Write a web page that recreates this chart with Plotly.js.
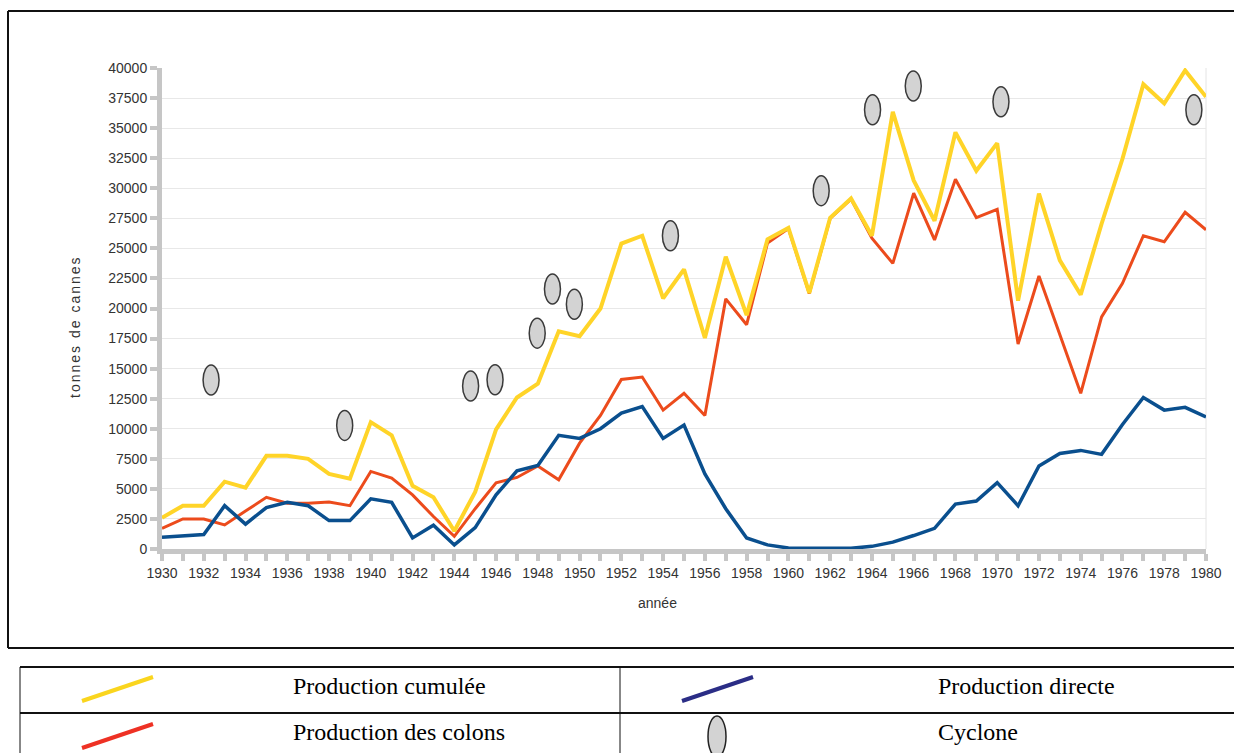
<!DOCTYPE html>
<html>
<head>
<meta charset="utf-8">
<script src="https://cdn.plot.ly/plotly-3.0.1.min.js"></script>
<style>
  html, body { margin: 0; padding: 0; background: #fff; overflow: hidden; }
  #chart { width: 1234px; height: 753px; overflow: hidden; }
  /* spaced-out y title, like the original */
  .annotation[data-index="0"] text { letter-spacing: 2px; }
</style>
</head>
<body>
<div id="chart"></div>
<script>
// Production de canne (tonnes), 1930-1980

const years = [
    1930, 1931, 1932, 1933, 1934, 1935, 1936, 1937, 1938, 1939,
    1940, 1941, 1942, 1943, 1944, 1945, 1946, 1947, 1948, 1949,
    1950, 1951, 1952, 1953, 1954, 1955, 1956, 1957, 1958, 1959,
    1960, 1961, 1962, 1963, 1964, 1965, 1966, 1967, 1968, 1969,
    1970, 1971, 1972, 1973, 1974, 1975, 1976, 1977, 1978, 1979, 1980
];

const prodCumulee = [
    2600, 3600, 3600, 5600, 5100, 7750, 7750, 7500, 6250, 5850,
    10550, 9450, 5250, 4300, 1500, 4750, 9950, 12600, 13750, 18100,
    17700, 20000, 25400, 26050, 20850, 23250, 17550, 24300, 19450, 25750,
    26700, 21300, 27550, 29150, 26050, 36350, 30650, 27300, 34650, 31450,
    33750, 20650, 29550, 24000, 21150, 27050, 32450, 38650, 37050, 39800, 37600
];

const prodColons = [
    1720, 2500, 2500, 2000, 3150, 4300, 3800, 3800, 3900, 3600,
    6450, 5900, 4500, 2700, 1050, 3350, 5500, 5950, 6900, 5750,
    8800, 11100, 14100, 14300, 11550, 12950, 11100, 20800, 18650, 25450,
    26650, 21250, 27500, 29100, 25850, 23750, 29600, 25700, 30750, 27550,
    28250, 17050, 22700, 17850, 12950, 19300, 22100, 26050, 25550, 28000, 26550
];

const prodDirecte = [
    980, 1060, 1200, 3600, 2070, 3450, 3880, 3600, 2360, 2360,
    4170, 3880, 920, 1980, 340, 1780, 4500, 6500, 6950, 9450,
    9200, 10000, 11300, 11850, 9200, 10300, 6250, 3350, 920, 340,
    80, 60, 60, 60, 220, 570, 1120, 1720, 3740, 3990,
    5520, 3590, 6900, 7950, 8200, 7870, 10350, 12600, 11550, 11780, 10980
];

// cyclones: where the ellipse sits on the chart (année, tonnes)
const cycloneYears = [1932.35, 1938.75, 1944.78, 1945.95, 1947.97, 1948.7, 1949.75,
                      1954.35, 1961.57, 1964.03, 1965.98, 1970.18, 1979.42];
const cycloneLevels = [14050, 10280, 13560, 14070, 17950, 21620, 20350,
                       26050, 29800, 36530, 38500, 37200, 36530];

const legendLabels = ['Production cumulée', 'Production directe', 'Production des colons', 'Cyclone'];

const COL_CUMUL = '#ffd428';
const COL_COLONS = '#ec4b1c';
const COL_DIRECTE = '#0a4f8e';

// plot area in page pixels, used to place the frame and the legend table
const PL = 162, PR = 1206, PT = 68, PB = 549;
const px = x => (x - PL) / (PR - PL);
const py = y => (PB - y) / (PB - PT);
const EDGE = 1234;

const traces = [
    {
        x: years, y: prodColons, mode: 'lines', name: legendLabels[2],
        line: { color: COL_COLONS, width: 3 }
    },
    {
        x: years, y: prodDirecte, mode: 'lines', name: legendLabels[1],
        line: { color: COL_DIRECTE, width: 3.5 }
    },
    {
        x: years, y: prodCumulee, mode: 'lines', name: legendLabels[0],
        line: { color: COL_CUMUL, width: 4 }
    }
];

const shapes = [];

// cyclone ellipses, anchored in data space, sized in pixels
cycloneYears.forEach((yr, i) => {
    shapes.push({
        type: 'circle', xref: 'x', yref: 'y',
        xsizemode: 'pixel', ysizemode: 'pixel',
        xanchor: yr, yanchor: cycloneLevels[i],
        x0: -8, x1: 8, y0: -15, y1: 15,
        fillcolor: '#d3d3d3', line: { color: '#3a3a3a', width: 1.5 },
        layer: 'above'
    });
});

// light border on the right of the plot
shapes.push({ type: 'line', xref: 'paper', yref: 'paper', x0: 1, x1: 1, y0: 0, y1: 1,
              line: { color: '#e4e4e4', width: 1 }, layer: 'below' });

// outer frame round the chart (open on the right, it runs off the page)
const frame = { color: '#111', width: 2 };
shapes.push({ type: 'line', xref: 'paper', yref: 'paper', x0: px(8), x1: px(EDGE), y0: py(11), y1: py(11), line: frame });
shapes.push({ type: 'line', xref: 'paper', yref: 'paper', x0: px(8), x1: px(EDGE), y0: py(648), y1: py(648), line: frame });
shapes.push({ type: 'line', xref: 'paper', yref: 'paper', x0: px(8), x1: px(8), y0: py(648), y1: py(11), line: frame });

// legend table
const tbl = { color: '#111', width: 2 };
shapes.push({ type: 'line', xref: 'paper', yref: 'paper', x0: px(20), x1: px(EDGE), y0: py(667), y1: py(667), line: tbl });
shapes.push({ type: 'line', xref: 'paper', yref: 'paper', x0: px(20), x1: px(EDGE), y0: py(713), y1: py(713), line: tbl });
shapes.push({ type: 'line', xref: 'paper', yref: 'paper', x0: px(20), x1: px(20), y0: py(667), y1: py(753), line: { color: '#111', width: 1 } });
shapes.push({ type: 'line', xref: 'paper', yref: 'paper', x0: px(620), x1: px(620), y0: py(667), y1: py(753), line: { color: '#111', width: 1 } });

// legend samples
shapes.push({ type: 'line', xref: 'paper', yref: 'paper', x0: px(82), x1: px(153), y0: py(701), y1: py(677), line: { color: '#fad51e', width: 4 } });
shapes.push({ type: 'line', xref: 'paper', yref: 'paper', x0: px(682), x1: px(753), y0: py(701), y1: py(677), line: { color: '#2b2d86', width: 4 } });
shapes.push({ type: 'line', xref: 'paper', yref: 'paper', x0: px(82), x1: px(153), y0: py(748), y1: py(724), line: { color: '#ee3124', width: 4 } });
shapes.push({ type: 'circle', xref: 'paper', yref: 'paper', x0: px(708), x1: px(726), y0: py(757), y1: py(716),
              fillcolor: '#d3d3d3', line: { color: '#222', width: 1.5 } });

const legendFont = { family: "'Liberation Serif', 'Times New Roman', serif", size: 24, color: '#000' };
const legendText = (text, x, y) => ({
    text: text, xref: 'paper', yref: 'paper', x: px(x), y: py(y),
    xanchor: 'left', yanchor: 'middle', showarrow: false, font: legendFont
});

const annotations = [
    {
        text: 'tonnes de cannes', xref: 'paper', yref: 'paper',
        x: px(75), y: py(327), textangle: -90, showarrow: false,
        xanchor: 'center', yanchor: 'middle',
        font: { family: "'Liberation Sans', Arial, sans-serif", size: 14, color: '#333' }
    },
    {
        text: 'année', xref: 'paper', yref: 'paper',
        x: px(657), y: py(603), showarrow: false,
        xanchor: 'center', yanchor: 'middle',
        font: { family: "'Liberation Sans', Arial, sans-serif", size: 14, color: '#333' }
    },
    legendText(legendLabels[0], 291, 686),
    legendText(legendLabels[1], 936, 686),
    legendText(legendLabels[2], 291, 732),
    legendText(legendLabels[3], 936, 732)
];

const axisGray = '#c6c6c6';

const layout = {
    width: 1234,
    height: 753,
    paper_bgcolor: '#fff',
    plot_bgcolor: '#fff',
    showlegend: false,
    font: { family: "'Liberation Sans', Arial, sans-serif", size: 14, color: '#333' },
    margin: { l: PL, r: 1234 - PR, t: PT, b: 753 - PB },
    xaxis: {
        range: [1930, 1980],
        tickmode: 'linear', tick0: 1930, dtick: 2,
        ticks: 'outside', ticklen: 7, tickwidth: 4, tickcolor: axisGray,
        minor: { tick0: 1930, dtick: 1, ticks: 'outside', ticklen: 7, tickwidth: 4, tickcolor: axisGray, showgrid: false },
        showline: true, linecolor: axisGray, linewidth: 5,
        showgrid: false, zeroline: false,
        tickfont: { size: 14, color: '#333' }
    },
    yaxis: {
        range: [0, 40000],
        tickmode: 'linear', tick0: 0, dtick: 2500, tickformat: 'd',
        ticks: 'outside', ticklen: 7, tickwidth: 4, tickcolor: axisGray,
        showline: true, linecolor: axisGray, linewidth: 5,
        showgrid: true, gridcolor: '#e8e8e8', gridwidth: 1, zeroline: false,
        tickfont: { size: 14, color: '#333' }
    },
    shapes: shapes,
    annotations: annotations
};

Plotly.newPlot('chart', traces, layout, { displayModeBar: false, staticPlot: true });
</script>
</body>
</html>
